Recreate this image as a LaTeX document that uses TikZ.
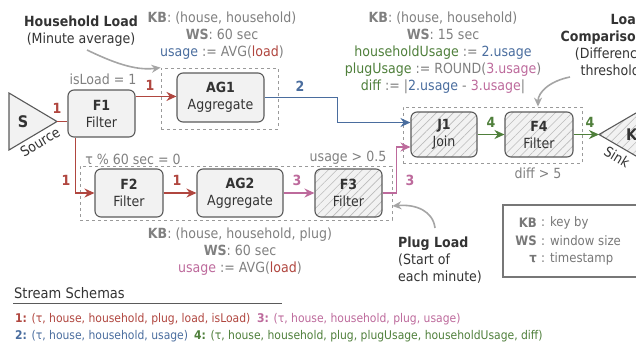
\documentclass[tikz,border=0pt]{standalone}
\usepackage{fontspec}
\setmainfont{DejaVu Sans Condensed}
\usetikzlibrary{arrows.meta,patterns.meta,calc}
\definecolor{cred}{HTML}{B0463F}
\definecolor{cblue}{HTML}{4A6D9E}
\definecolor{cpink}{HTML}{BD6A9C}
\definecolor{cgreen}{HTML}{4F7F3B}
\definecolor{cgray}{HTML}{808080}
\definecolor{cborder}{HTML}{5A5A5A}
\definecolor{cfill}{HTML}{F2F2F2}
\definecolor{ctxt}{HTML}{333333}
\definecolor{chatch}{HTML}{BBBBBB}
\definecolor{cdash}{HTML}{9A9A9A}
\definecolor{ccall}{HTML}{A5A5A5}
\definecolor{clegend}{HTML}{777777}
\begin{document}
\begin{tikzpicture}[x=1pt,y=-1pt,
  every node/.style={font=\fontsize{14}{17}\selectfont, inner sep=0pt},
  op/.style={draw=cborder, fill=cfill, rounded corners=6pt, line width=1.1pt, align=center, text=ctxt},
  hatchop/.style={op, preaction={fill=cfill}, pattern={Lines[angle=45,distance=6pt,line width=0.6pt]}, pattern color=chatch},
  grp/.style={draw=cdash, dash pattern=on 3pt off 3pt, line width=0.8pt},
  flow/.style={line width=1.8pt, -{Stealth[length=10pt,width=9pt]}},
  plain/.style={line width=1.8pt},
  lbl/.style={font=\fontsize{14}{17}\selectfont\bfseries},
  note/.style={text=cgray, align=center},
  callout/.style={draw=ccall, line width=1.6pt, -{Stealth[length=9pt,width=8pt]}},
  schema/.style={anchor=west, font=\fontsize{12}{15}\selectfont},
  legk/.style={text=clegend, anchor=east, font=\fontsize{13}{15}\selectfont\bfseries},
  legv/.style={text=clegend, anchor=west, font=\fontsize{13}{15}\selectfont},
]
\useasboundingbox (0,0) rectangle (636,354);

% group boxes
\node[grp, minimum width=117pt, minimum height=61pt] (g1) at (219.5,98.5) {};
\node[grp, minimum width=312pt, minimum height=54pt] (g2) at (236,193) {};
\node[grp, minimum width=179pt, minimum height=56pt] (g3) at (492.5,135) {};

% source
\draw[draw=cborder, fill=cfill, line width=1.1pt] (9,93) -- (57,121.5) -- (9,150) -- cycle;
\coordinate (srcTip) at (57,121.5);
\node[font=\fontsize{16}{18}\selectfont\bfseries, text=ctxt] (sS) at (23,122) {S};
\node[text=ctxt, rotate=31] (sLab) at (40,142) {Source};

% sink
\draw[draw=cborder, line width=1.1pt, preaction={fill=cfill}, pattern={Lines[angle=45,distance=6pt,line width=0.6pt]}, pattern color=chatch] (599,134.5) -- (648,106) -- (648,163) -- cycle;
\coordinate (sinkTip) at (599,134.5);
\node[font=\fontsize{16}{18}\selectfont\bfseries, text=ctxt, anchor=west] (kK) at (626,135) {K};
\node[text=ctxt, rotate=-31] (kLab) at (617,157) {Sink};

% operators
\node[op, minimum width=67pt, minimum height=47pt] (F1) at (101.5,113.5) {\textbf{F1}\\Filter};
\node[op, minimum width=87pt, minimum height=49pt] (AG1) at (220.5,97.5) {\textbf{AG1}\\Aggregate};
\node[op, minimum width=68pt, minimum height=48pt] (F2) at (129,193) {\textbf{F2}\\Filter};
\node[op, minimum width=86pt, minimum height=48pt] (AG2) at (240,193) {\textbf{AG2}\\Aggregate};
\node[hatchop, minimum width=67pt, minimum height=48pt] (F3) at (348.5,193) {\textbf{F3}\\Filter};
\node[hatchop, minimum width=66pt, minimum height=45pt] (J1) at (444,134.5) {\textbf{J1}\\Join};
\node[hatchop, minimum width=68pt, minimum height=45pt] (F4) at (539,134.5) {\textbf{F4}\\Filter};

% flows
\draw[plain, cred] (srcTip) -- (srcTip -| F1.west);
\node[lbl, text=cred] (l1a) at (57,108) {1};
\draw[flow, cred] ($(F1.north east)+(0,7)$) coordinate (f1o) -- (f1o -| AG1.west);
\node[lbl, text=cred] (l1b) at (150,85) {1};
\draw[flow, cred] ($(F1.south west)+(8,0)$) |- (F2.west);
\node[lbl, text=cred] (l1c) at (66,180) {1};
\draw[flow, cred] (F2) -- (AG2);
\node[lbl, text=cred] (l1d) at (177,180) {1};
\draw[flow, cpink] (AG2) -- (F3);
\node[lbl, text=cpink] (l3a) at (297,180) {3};
\draw[flow, cpink] (F3.east) -- ++(14,0) |- ($(J1.west)+(0,12.5)$);
\node[lbl, text=cpink] (l3b) at (410,180) {3};
\draw[flow, cblue] (AG1.east) -- ++(73,0) |- ($(J1.west)+(0,-12)$);
\node[lbl, text=cblue] (l2) at (300,86) {2};
\draw[flow, cgreen] (J1) -- (F4);
\node[lbl, text=cgreen] (l4a) at (491,122) {4};
\draw[flow, cgreen] (F4.east) -- (sinkTip);
\node[lbl, text=cgreen] (l4b) at (590,122) {4};

% annotations
\node[note] (kb1) at (222,36) {\textbf{KB}: (house, household)\\\textbf{WS}: 60 sec\\\textcolor{cblue}{usage} := AVG(\textcolor{cred}{load})};
\node[note] (isl) at (103,79) {isLoad = 1};
\node[note] (kb2) at (443,53) {\textbf{KB}: (house, household)\\\textbf{WS}: 15 sec\\\textcolor{cgreen}{householdUsage} := \textcolor{cblue}{2.usage}\\\textcolor{cgreen}{plugUsage} := ROUND(\textcolor{cpink}{3.usage})\\\textcolor{cgreen}{diff} := |\textcolor{cblue}{2.usage} - \textcolor{cpink}{3.usage}|};
\node[note] (tau) at (133,159) {τ \% 60 sec = 0};
\node[note] (usg) at (348,158) {usage > 0.5};
\node[note] (dif) at (538,173) {diff > 5};
\node[note] (kb3) at (240,252) {\textbf{KB}: (house, household, plug)\\\textbf{WS}: 60 sec\\\textcolor{cpink}{usage} := AVG(\textcolor{cred}{load})};

% callouts
\node[align=center, text=ctxt] (hh) at (81,31) {\textbf{Household Load}\\(Minute average)};
\draw[callout] (87,50) .. controls (112,62) and (135,71) .. (g1.north west);
\node[align=right, text=ctxt, anchor=north east] (lc) at (645,14) {\textbf{Load}\\\textbf{Comparison}\\(Difference\\threshold)};
\coordinate (lcStart) at (570,77);
\draw[callout] (lcStart) .. controls (550,81) and (538,92) .. ($(g3.north)+(45.5,0)$);
\node[align=left, text=ctxt, anchor=north west] (pl) at (398,237) {\textbf{Plug Load}\\(Start of\\each minute)};
\coordinate (plStart) at (435,228);
\draw[callout] (plStart) .. controls (433,211) and (416,204) .. ($(g2.east)+(0,13)$);

% legend
\node[draw=clegend, line width=1.1pt, minimum width=142pt, minimum height=72pt] (leg) at (574,241) {};
\node[legk] (lk1) at (537,223) {KB};
\node[legk] (lk2) at (537,241) {WS};
\node[legk] (lk3) at (537,259) {τ};
\node[legv] (lv1) at (541,223) {: key by};
\node[legv] (lv2) at (541,241) {: window size};
\node[legv] (lv3) at (541,259) {: timestamp};

% schemas
\node[text=ctxt, anchor=west, font=\fontsize{14.5}{17}\selectfont] (ss) at (14,293) {Stream Schemas};
\coordinate (ulA) at (13,303);
\coordinate (ulB) at (282,303);
\draw[cborder, line width=1pt] (ulA) -- (ulB);
\node[schema, text=cred] (s1) at (15,319) {\textbf{1:} (τ, house, household, plug, load, isLoad)};
\node[schema, text=cpink] (s3) at (257,319) {\textbf{3:} (τ, house, household, plug, usage)};
\node[schema, text=cblue] (s2) at (15,336) {\textbf{2:} (τ, house, household, usage)};
\node[schema, text=cgreen] (s4) at (194,336) {\textbf{4:} (τ, house, household, plug, plugUsage, householdUsage, diff)};
\end{tikzpicture}
\end{document}
